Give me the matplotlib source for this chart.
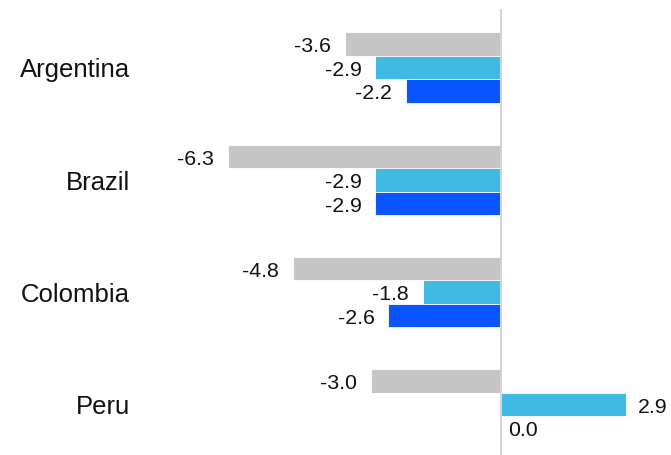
import numpy as np
import matplotlib
matplotlib.use("Agg")
import matplotlib.pyplot as plt

plt.rcParams['font.family'] = ['Liberation Sans', 'DejaVu Sans']

countries = ["Argentina", "Brazil", "Colombia", "Peru"]
series_a = [-3.6, -6.3, -4.8, -3.0]   # gray
series_b = [-2.9, -2.9, -1.8, 2.9]    # light blue
series_c = [-2.2, -2.9, -2.6, 0.0]    # blue
colors = ['#c6c6c6', '#41b9e5', '#0a55fe']

fig = plt.figure(figsize=(6.71, 4.55), dpi=100)
ax = fig.add_axes([0, 0, 1, 1])

y = np.arange(len(countries))
h = 0.209
offsets = [-h, 0, h]

for vals, off, col in zip([series_a, series_b, series_c], offsets, colors):
    ax.barh(y + off, vals, height=h, color=col, edgecolor='white', linewidth=0.6, zorder=2)
    for yi, v in zip(y + off, vals):
        if v < 0:
            ax.annotate(f"{v:.1f}", (v, yi), xytext=(-10, -2), textcoords='offset points',
                        ha='right', va='center', fontsize=15.3, color='#111111')
        elif v > 0:
            ax.annotate(f"{v:.1f}", (v, yi), xytext=(8, -2), textcoords='offset points',
                        ha='left', va='center', fontsize=15.3, color='#111111')
        else:
            ax.annotate(f"{v:.1f}", (v, yi), xytext=(5, -2), textcoords='offset points',
                        ha='left', va='center', fontsize=15.3, color='#111111')

for yi, name in zip(y, countries):
    ax.annotate(name, (-8.57, yi), xytext=(0, -2), textcoords='offset points',
                ha='right', va='center', fontsize=18.5, color='#111111')

ax.plot([0, 0], [-0.51, 3.5], color='#d4d4d4', linewidth=1.5, zorder=3)

ax.set_xlim(-11.57, 3.93)
ax.set_ylim(3.45, -0.601)
ax.axis('off')

fig.savefig("out.png", dpi=100)
